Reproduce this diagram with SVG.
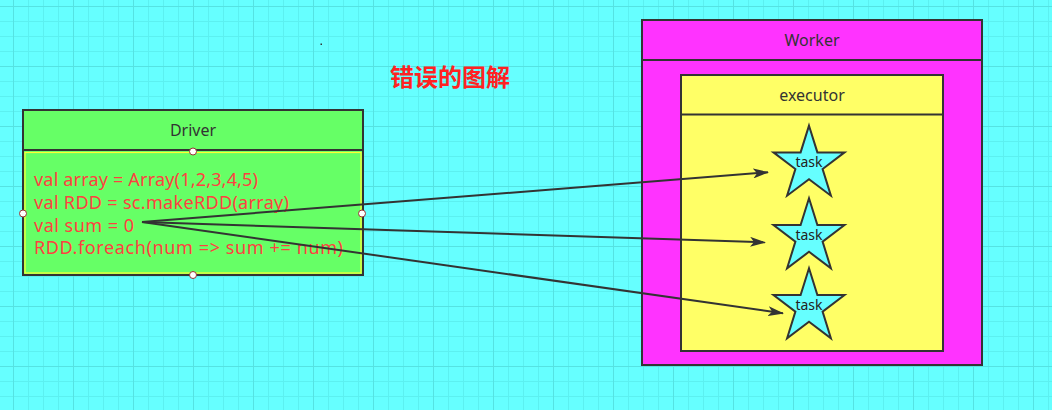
<svg xmlns="http://www.w3.org/2000/svg" width="1052" height="410" viewBox="0 0 1052 410">
<defs>
<pattern id="grid" patternUnits="userSpaceOnUse" x="13" y="6" width="60" height="60">
<rect width="60" height="60" fill="#66FFFF"/>
<g fill="#5CF0F0">
<rect x="15" y="0" width="1" height="60"/><rect x="30" y="0" width="1" height="60"/><rect x="45" y="0" width="1" height="60"/>
<rect x="0" y="15" width="60" height="1"/><rect x="0" y="30" width="60" height="1"/><rect x="0" y="45" width="60" height="1"/>
</g>
<g fill="#55E2E2"><rect x="0" y="0" width="1" height="60"/><rect x="0" y="0" width="60" height="1"/></g>
</pattern>
<marker id="arr" viewBox="0 0 16 10" refX="15" refY="5" markerWidth="16" markerHeight="10" markerUnits="userSpaceOnUse" orient="auto">
<path d="M0,0 L16,5 L0,10 L4,5 Z" fill="#333333"/>
</marker>
<path id="star" d="M0,-38.7 L8.4,-12 L35.5,-12 L13.6,4.6 L21.9,31.3 L0,14.8 L-21.9,31.3 L-13.6,4.6 L-35.5,-12 L-8.4,-12 Z"/>
</defs>
<style>
.box{stroke:#333333;stroke-width:2}
.lbl{font-family:"Noto Sans","Open Sans","Liberation Sans",sans-serif;fill:#333333;text-anchor:middle}
.code{font-family:"Noto Sans","Open Sans","Liberation Sans",sans-serif;font-size:18px;fill:#FF4040}
.pt{fill:#ffffff;stroke:#993333;stroke-width:1}
.conn{stroke:#333333;stroke-width:2;fill:none}
.star{fill:#66FFFF;stroke:#333333;stroke-width:2;stroke-linejoin:miter}
.tlbl{font-family:"Noto Sans","Open Sans","Liberation Sans",sans-serif;font-size:14px;fill:#222222;text-anchor:middle}
</style>
<rect width="1052" height="410" fill="url(#grid)"/>
<rect x="320.5" y="43.5" width="1.5" height="1.5" fill="#333333"/>
<g id="title">
<text x="450" y="86" font-family="'Noto Sans CJK SC',sans-serif" font-weight="bold" font-size="24" fill="#FF2222" text-anchor="middle">错误的图解</text>
</g>
<g id="driver">
<rect class="box" x="23" y="110" width="340" height="165" fill="#66FF66"/>
<line class="box" x1="23" y1="150" x2="363" y2="150"/>
<rect x="25" y="152.5" width="336" height="120.5" fill="none" stroke="#FFFF33" stroke-width="1.2"/>
<text class="lbl" x="193" y="136" font-size="16">Driver</text>
<text class="code" x="34" y="186" textLength="224" lengthAdjust="spacing">val array = Array(1,2,3,4,5)</text>
<text class="code" x="34" y="209" textLength="255" lengthAdjust="spacing">val RDD = sc.makeRDD(array)</text>
<text class="code" x="34" y="232" textLength="100" lengthAdjust="spacing">val sum = 0</text>
<text class="code" x="34" y="254" textLength="309" lengthAdjust="spacing">RDD.foreach(num =&gt; sum += num)</text>
</g>
<g id="worker">
<rect class="box" x="642" y="20" width="340" height="345" fill="#FF33FF"/>
<line class="box" x1="642" y1="60" x2="982" y2="60"/>
<text class="lbl" x="812" y="46" font-size="16">Worker</text>
</g>
<g id="executor">
<rect class="box" x="681" y="75" width="262" height="276" fill="#FFFF66"/>
<line class="box" x1="681" y1="114.5" x2="943" y2="114.5"/>
<text class="lbl" x="812" y="101" font-size="16">executor</text>
</g>
<g id="task1">
<use href="#star" class="star" x="809" y="164.4"/>
<text class="tlbl" x="809" y="167">task</text>
</g>
<g id="task2">
<use href="#star" class="star" x="809" y="237"/>
<text class="tlbl" x="809" y="240">task</text>
</g>
<g id="task3">
<use href="#star" class="star" x="809" y="307"/>
<text class="tlbl" x="809" y="310">task</text>
</g>
<g id="connectors">
<line class="conn" x1="142" y1="222" x2="768" y2="172.3" marker-end="url(#arr)"/>
<line class="conn" x1="142" y1="222" x2="765" y2="242.3" marker-end="url(#arr)"/>
<line class="conn" x1="142" y1="222" x2="783" y2="313.3" marker-end="url(#arr)"/>
</g>
<g id="driver-points">
<circle class="pt" cx="193" cy="151.5" r="3.5"/>
<circle class="pt" cx="23" cy="213.5" r="3.5"/>
<circle class="pt" cx="362" cy="213.5" r="3.5"/>
<circle class="pt" cx="193" cy="275" r="3.5"/>
</g>
</svg>
